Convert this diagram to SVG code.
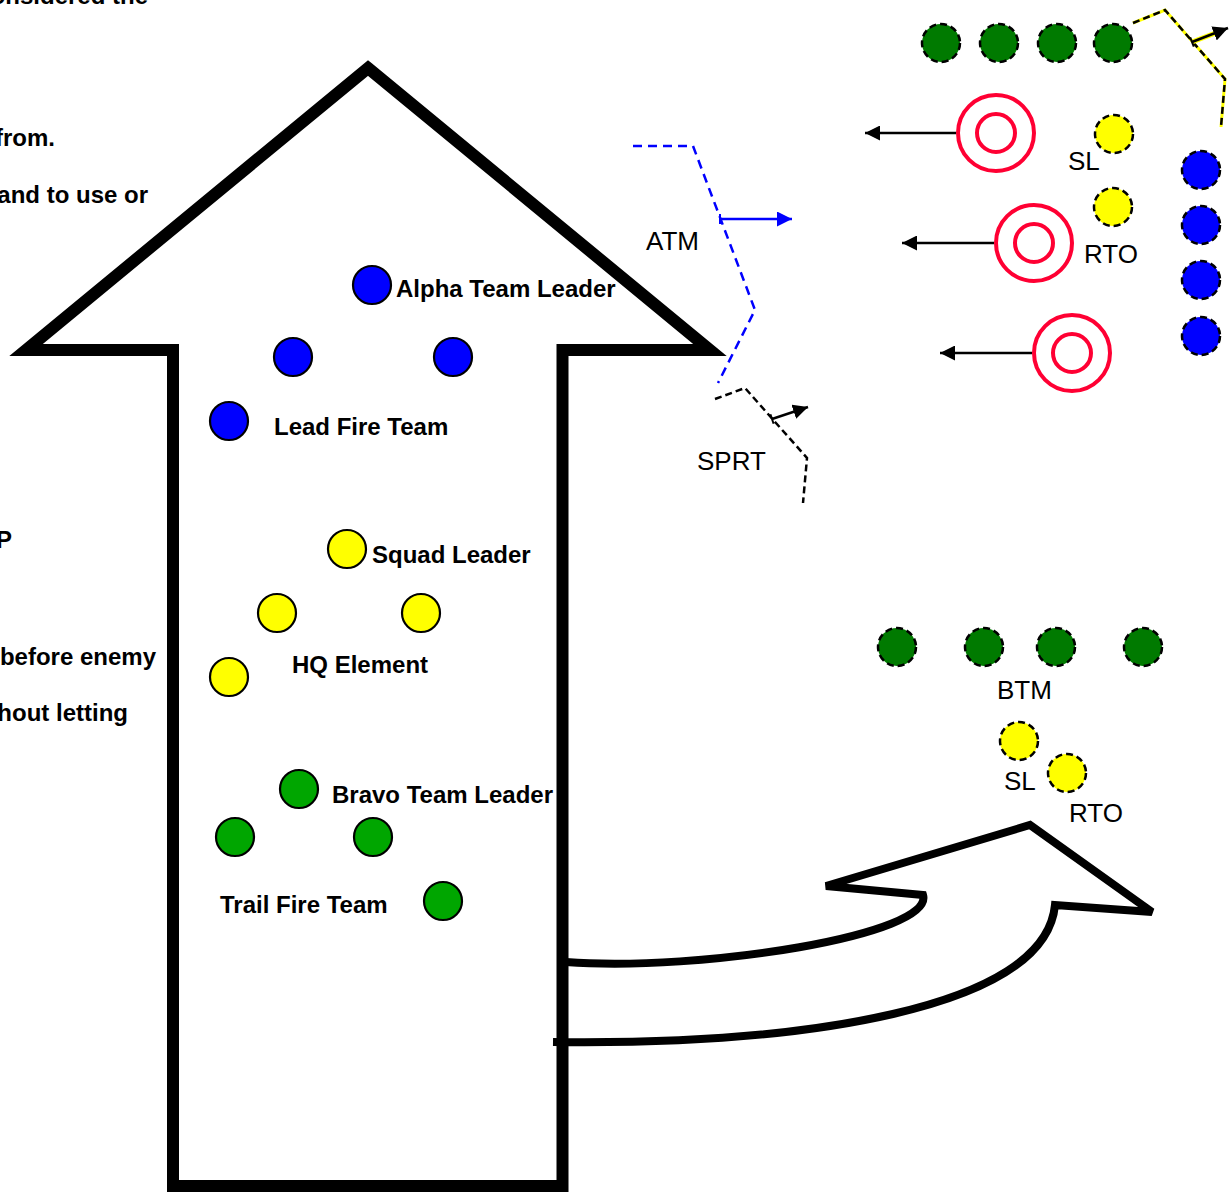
<svg xmlns="http://www.w3.org/2000/svg" width="1231" height="1196" viewBox="0 0 1231 1196">
<defs>
<style>
.b{font-family:"Liberation Sans",Arial,sans-serif;font-weight:bold;font-size:24px;fill:#000}
.r{font-family:"Liberation Sans",Arial,sans-serif;font-size:26px;fill:#000}
.e{text-anchor:end}
.sol{stroke:#000;stroke-width:2.2}
.dsh{stroke:#000;stroke-width:2.5;stroke-dasharray:7 4}
.blue{fill:#0000FF}
.yel{fill:#FFFF00}
.grn{fill:#00A600}
.dgrn{fill:#007A00}
.tgt{fill:none;stroke:#FF0033;stroke-width:4}
.arr{stroke:#000;stroke-width:2.5;fill:none}
.big{fill:none;stroke:#000;stroke-linejoin:miter;stroke-miterlimit:10}
</style>
<marker id="hk" viewBox="0 0 10 10" refX="10" refY="5" markerWidth="6" markerHeight="6" orient="auto" markerUnits="strokeWidth"><path d="M0,0 L10,5 L0,10 z" fill="#000"/></marker>
<marker id="hb" viewBox="0 0 10 10" refX="10" refY="5" markerWidth="6" markerHeight="6" orient="auto" markerUnits="strokeWidth"><path d="M0,0 L10,5 L0,10 z" fill="#0000FF"/></marker>
</defs>
<rect width="1231" height="1196" fill="#fff"/>

<g id="left-text">
<text class="b e" x="148" y="4">onsidered the</text>
<text class="b e" x="55" y="146">from.</text>
<text class="b e" x="148" y="203">and to use or</text>
<text class="b e" x="12" y="548">P</text>
<text class="b e" x="156" y="665">before enemy</text>
<text class="b e" x="128" y="721">hout letting</text>
</g>

<g id="main-arrow">
<path class="big" stroke-width="12" d="M368,68 L710,350 L562.5,350 L562.5,1186 L173,1186 L173,350 L26,350 Z"/>
</g>

<g id="turn-arrow">
<path class="big" stroke-width="8" style="stroke-miterlimit:1.6" d="M566,962 C700,972 935,935 923,895 L826,886 L1030,825 L1152,912 L1055,905 C1045,1010 800,1045 553,1042"/>
</g>

<g id="lead-fire-team">
<circle class="blue sol" cx="372" cy="285" r="19"/>
<text class="b" x="396" y="297">Alpha Team Leader</text>
<circle class="blue sol" cx="293" cy="357" r="19"/>
<circle class="blue sol" cx="453" cy="357" r="19"/>
<circle class="blue sol" cx="229" cy="421" r="19"/>
<text class="b" x="274" y="435">Lead Fire Team</text>
</g>

<g id="hq-element">
<circle class="yel sol" cx="347" cy="549" r="19"/>
<text class="b" x="372" y="563">Squad Leader</text>
<circle class="yel sol" cx="277" cy="613" r="19"/>
<circle class="yel sol" cx="421" cy="613" r="19"/>
<circle class="yel sol" cx="229" cy="677" r="19"/>
<text class="b" x="292" y="673">HQ Element</text>
</g>

<g id="trail-fire-team">
<circle class="grn sol" cx="299" cy="789" r="19"/>
<text class="b" x="332" y="803">Bravo Team Leader</text>
<circle class="grn sol" cx="235" cy="837" r="19"/>
<circle class="grn sol" cx="373" cy="837" r="19"/>
<circle class="grn sol" cx="443" cy="901" r="19"/>
<text class="b" x="220" y="913">Trail Fire Team</text>
</g>

<g id="atm">
<polyline points="633,146 693,146 755,310 718,383" fill="none" stroke="#0000FF" stroke-width="2.5" stroke-dasharray="9 6"/>
<text class="r" x="646" y="250">ATM</text>
</g>

<g id="sprt">
<polyline class="dsh" fill="none" points="715,399 745,388 807,458 803,503"/>
<text class="r" x="697" y="470">SPRT</text>
</g>

<g id="btm-top">
<circle class="dgrn dsh" cx="941" cy="43" r="19"/>
<circle class="dgrn dsh" cx="999" cy="43" r="19"/>
<circle class="dgrn dsh" cx="1057" cy="43" r="19"/>
<circle class="dgrn dsh" cx="1113" cy="43" r="19"/>
<polyline points="1133,23 1165,10 1225,79 1221,127" fill="none" stroke="#FFFF00" stroke-width="3"/>
<polyline class="dsh" fill="none" points="1133,23 1165,10 1225,79 1221,127"/>
</g>

<g id="squad-hq-top">
<circle class="yel dsh" cx="1114" cy="134" r="19"/>
<text class="r" x="1068" y="170">SL</text>
<circle class="yel dsh" cx="1113" cy="207" r="19"/>
<text class="r" x="1084" y="263">RTO</text>
</g>

<g id="atm-right">
<circle class="blue dsh" cx="1201" cy="170" r="19"/>
<circle class="blue dsh" cx="1201" cy="225" r="19"/>
<circle class="blue dsh" cx="1201" cy="280" r="19"/>
<circle class="blue dsh" cx="1201" cy="336" r="19"/>
</g>

<g id="target-1">
<circle class="tgt" cx="996" cy="133" r="38"/>
<circle class="tgt" cx="996" cy="133" r="19"/>
</g>
<g id="target-2">
<circle class="tgt" cx="1034" cy="243" r="38"/>
<circle class="tgt" cx="1034" cy="243" r="19"/>
</g>
<g id="target-3">
<circle class="tgt" cx="1072" cy="353" r="38"/>
<circle class="tgt" cx="1072" cy="353" r="19"/>
</g>

<g id="btm-bottom">
<circle class="dgrn dsh" cx="897" cy="647" r="19"/>
<circle class="dgrn dsh" cx="984" cy="647" r="19"/>
<circle class="dgrn dsh" cx="1056" cy="647" r="19"/>
<circle class="dgrn dsh" cx="1143" cy="647" r="19"/>
<text class="r" x="997" y="699">BTM</text>
<circle class="yel dsh" cx="1019" cy="741" r="19"/>
<text class="r" x="1004" y="790">SL</text>
<circle class="yel dsh" cx="1067" cy="773" r="19"/>
<text class="r" x="1069" y="822">RTO</text>
</g>

<g id="connectors">
<line class="arr" x1="956" y1="133" x2="865" y2="133" marker-end="url(#hk)"/>
<line class="arr" x1="994" y1="243" x2="902" y2="243" marker-end="url(#hk)"/>
<line class="arr" x1="1032" y1="353" x2="940" y2="353" marker-end="url(#hk)"/>
<line x1="720" y1="219" x2="792" y2="219" stroke="#0000FF" stroke-width="2.5" marker-end="url(#hb)"/>
<line x1="720" y1="214" x2="720" y2="224" stroke="#0000FF" stroke-width="2"/>
<line class="arr" x1="772" y1="419" x2="808" y2="407" marker-end="url(#hk)"/>
<line x1="770.4" y1="414.3" x2="773.6" y2="423.7" stroke="#000" stroke-width="2"/>
<line x1="1192" y1="42" x2="1222" y2="30.5" stroke="#FFFF00" stroke-width="5"/>
<line class="arr" x1="1192" y1="42" x2="1228" y2="28" marker-end="url(#hk)"/>
<line x1="1190.2" y1="37.3" x2="1193.8" y2="46.7" stroke="#000" stroke-width="2"/>
</g>
</svg>
